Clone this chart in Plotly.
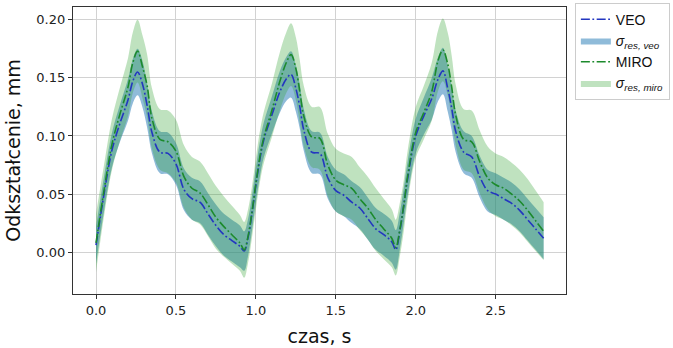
import plotly.graph_objects as go

# time points (s), grouped per cycle
t = [0.0, 0.05, 0.1, 0.15, 0.2, 0.23, 0.26, 0.29, 0.32, 0.35, 0.4, 0.45, 0.5, 0.55, 0.6, 0.65,
     0.7, 0.75, 0.8, 0.85, 0.9, 0.927,
     0.95, 0.975, 1.0, 1.025, 1.05, 1.1, 1.15, 1.19, 1.22, 1.25, 1.275, 1.3, 1.35, 1.4, 1.45,
     1.5, 1.55, 1.6, 1.65, 1.7, 1.75, 1.8, 1.85, 1.875,
     1.9, 1.925, 1.95, 2.0, 2.05, 2.1, 2.14, 2.17, 2.2, 2.225, 2.25, 2.3, 2.35, 2.4, 2.45,
     2.5, 2.55, 2.6, 2.65, 2.7, 2.75, 2.8]

veo = [0.006, 0.050, 0.088, 0.111, 0.131, 0.147, 0.155, 0.145, 0.126, 0.103, 0.086, 0.085,
       0.076, 0.054, 0.046, 0.043, 0.033, 0.023, 0.015, 0.010, 0.005, 0.001,
       0.012, 0.033, 0.058, 0.080, 0.097, 0.118, 0.138, 0.149, 0.153, 0.141, 0.125, 0.105,
       0.086, 0.085, 0.064, 0.053, 0.049, 0.043, 0.038, 0.029, 0.020, 0.015, 0.009, 0.002,
       0.018, 0.040, 0.064, 0.100, 0.117, 0.132, 0.149, 0.156, 0.141, 0.124, 0.104, 0.086,
       0.082, 0.065, 0.053, 0.050, 0.046, 0.042, 0.036, 0.028, 0.020, 0.012]

miro = [0.008, 0.053, 0.093, 0.119, 0.142, 0.163, 0.173, 0.160, 0.143, 0.115, 0.097, 0.095,
        0.087, 0.065, 0.055, 0.051, 0.041, 0.030, 0.022, 0.015, 0.008, 0.002,
        0.013, 0.034, 0.059, 0.082, 0.099, 0.122, 0.147, 0.163, 0.170, 0.158, 0.138, 0.117,
        0.099, 0.098, 0.075, 0.062, 0.058, 0.055, 0.046, 0.038, 0.028, 0.020, 0.012, 0.004,
        0.019, 0.040, 0.066, 0.103, 0.120, 0.138, 0.165, 0.174, 0.162, 0.142, 0.118, 0.097,
        0.095, 0.078, 0.064, 0.058, 0.055, 0.050, 0.044, 0.036, 0.027, 0.018]

sigma_veo = [0.016, 0.015, 0.015, 0.016, 0.018, 0.019, 0.020, 0.020, 0.019, 0.018, 0.018, 0.018,
             0.018, 0.018, 0.018, 0.018, 0.018, 0.018, 0.018, 0.018, 0.018, 0.017,
             0.016, 0.015, 0.015, 0.015, 0.015, 0.016, 0.018, 0.019, 0.020, 0.020, 0.019, 0.018,
             0.018, 0.018, 0.018, 0.018, 0.018, 0.018, 0.018, 0.018, 0.018, 0.018, 0.018, 0.017,
             0.016, 0.015, 0.015, 0.015, 0.016, 0.018, 0.019, 0.020, 0.020, 0.019, 0.018, 0.018,
             0.018, 0.018, 0.018, 0.018, 0.018, 0.018, 0.018, 0.018, 0.018, 0.018]

sigma_miro = [0.025, 0.022, 0.022, 0.023, 0.025, 0.026, 0.027, 0.027, 0.027, 0.026, 0.026, 0.027,
              0.027, 0.027, 0.027, 0.027, 0.027, 0.027, 0.026, 0.025, 0.024, 0.024,
              0.023, 0.022, 0.022, 0.022, 0.022, 0.023, 0.025, 0.026, 0.027, 0.027, 0.027, 0.026,
              0.026, 0.027, 0.027, 0.027, 0.027, 0.027, 0.027, 0.027, 0.027, 0.026, 0.025, 0.024,
              0.023, 0.022, 0.022, 0.022, 0.023, 0.025, 0.026, 0.027, 0.027, 0.027, 0.026, 0.026,
              0.027, 0.027, 0.027, 0.027, 0.027, 0.027, 0.027, 0.027, 0.026, 0.025]

x_ticks = [0.0, 0.5, 1.0, 1.5, 2.0, 2.5]
y_ticks = [0.00, 0.05, 0.10, 0.15, 0.20]

veo_lo = [m - s for m, s in zip(veo, sigma_veo)]
veo_hi = [m + s for m, s in zip(veo, sigma_veo)]
miro_lo = [m - s for m, s in zip(miro, sigma_miro)]
miro_hi = [m + s for m, s in zip(miro, sigma_miro)]

SM = 1.0
fig = go.Figure()
# VEO band
fig.add_trace(go.Scatter(x=t, y=veo_lo, mode="lines", line=dict(width=0, shape="spline", smoothing=SM),
                         showlegend=False, hoverinfo="skip"))
fig.add_trace(go.Scatter(x=t, y=veo_hi, mode="lines", fill="tonexty",
                         fillcolor="rgba(31,119,180,0.5)",
                         line=dict(width=0, shape="spline", smoothing=SM),
                         name="<i>σ<sub>res, veo</sub></i>", legendrank=2))
# MIRO band
fig.add_trace(go.Scatter(x=t, y=miro_lo, mode="lines", line=dict(width=0, shape="spline", smoothing=SM),
                         showlegend=False, hoverinfo="skip"))
fig.add_trace(go.Scatter(x=t, y=miro_hi, mode="lines", fill="tonexty",
                         fillcolor="rgba(44,160,44,0.3)",
                         line=dict(width=0, shape="spline", smoothing=SM),
                         name="<i>σ<sub>res, miro</sub></i>", legendrank=4))
# lines
fig.add_trace(go.Scatter(x=t, y=veo, mode="lines", name="VEO", legendrank=1,
                         line=dict(color="#2336c0", width=1.6, dash="9px,2.5px,1.8px,2.5px",
                                   shape="spline", smoothing=SM)))
fig.add_trace(go.Scatter(x=t, y=miro, mode="lines", name="MIRO", legendrank=3,
                         line=dict(color="#1c8a2c", width=1.6, dash="9px,2.5px,1.8px,2.5px",
                                   shape="spline", smoothing=SM)))

axis_common = dict(showgrid=True, gridcolor="#d2d2d2", gridwidth=1, zeroline=False,
                   showline=True, linecolor="#333333", linewidth=1.3, mirror=True,
                   ticks="outside", ticklen=4, tickcolor="#333333",
                   tickfont=dict(family="DejaVu Sans", size=13, color="#222222"))

fig.update_xaxes(range=[-0.144, 2.94], tickvals=x_ticks, tickformat=".1f",
                 title=dict(text="czas, s", font=dict(family="DejaVu Sans", size=19, color="#111111"),
                            standoff=12),
                 **axis_common)
fig.update_yaxes(range=[-0.036, 0.211], tickvals=y_ticks, tickformat=".2f",
                 title=dict(text="Odkształcenie, mm", font=dict(family="DejaVu Sans", size=19, color="#111111"),
                            standoff=10),
                 **axis_common)

fig.update_layout(
    width=673, height=348,
    margin=dict(l=73, r=107, t=7, b=54, autoexpand=False),
    paper_bgcolor="white", plot_bgcolor="white",
    legend=dict(x=1.018, y=1.015, xanchor="left", yanchor="top", traceorder="normal",
                bgcolor="white", bordercolor="#cccccc", borderwidth=1,
                font=dict(family="Liberation Sans", size=14, color="#111111"),
                tracegroupgap=0, itemwidth=30),
)

fig.write_html("out.html")
